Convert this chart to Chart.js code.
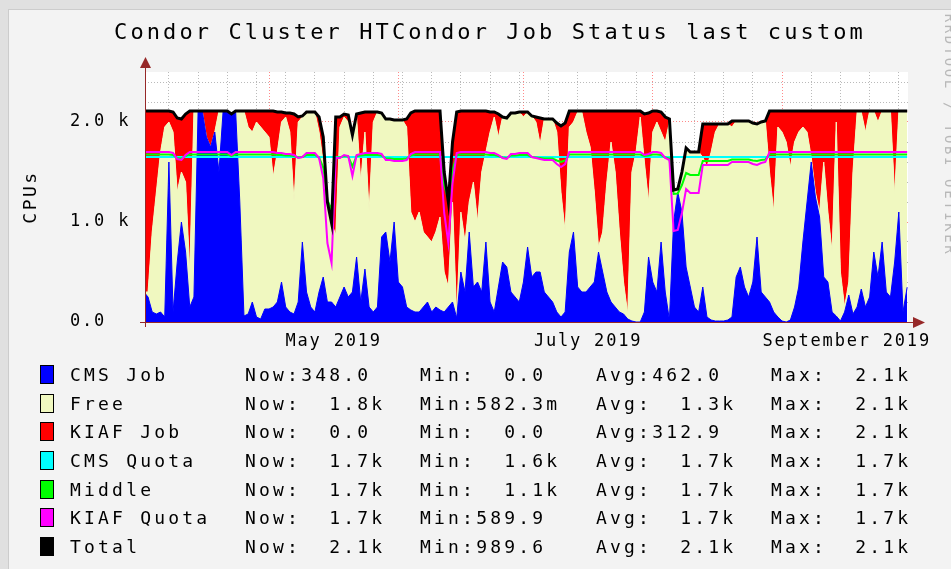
<!DOCTYPE html>
<html>
<head>
<meta charset="utf-8">
<title>Condor Cluster HTCondor Job Status</title>
<script src="https://cdn.jsdelivr.net/npm/chart.js@4.4.1/dist/chart.umd.min.js"></script>
<style>
    html, body { margin: 0; padding: 0; }
    body {
        width: 951px; height: 569px; overflow: hidden; position: relative;
        background: #e0e0e0;
        font-family: "DejaVu Sans Mono", monospace;
    }
    #panel {
        position: absolute; left: 8px; top: 9px; right: 0; bottom: 0;
        background: #f3f3f3;
        border-left: 1px solid #cccccc; border-top: 1px solid #cccccc;
    }
    #chart { position: absolute; left: 0; top: 0; }
    #title {
        position: absolute; left: 0; top: 19px; width: 980px;
        text-align: center; font-size: 22px; line-height: 26px;
        letter-spacing: 3.1px; white-space: pre; color: #000;
    }
    #ytitle {
        position: absolute; left: -10px; top: 185px; width: 80px; height: 24px;
        line-height: 24px; text-align: center; font-size: 18px; letter-spacing: 2.5px;
        transform: rotate(-90deg); color: #000;
    }
    #mark {
        position: absolute; left: 800px; top: 127px; width: 300px; height: 16px;
        line-height: 16px; text-align: center; font-size: 14px; letter-spacing: 2.6px;
        transform: rotate(90deg); color: #b8b8b8; white-space: pre;
    }
    .row { position: absolute; left: 0; width: 951px; height: 28px; line-height: 28px;
        font-size: 18px; letter-spacing: 3.2px; white-space: pre; color: #000; }
    .row span { position: absolute; top: 0; }
    .row .sq { width: 12px; height: 17px; top: 4px; left: 40px; border: 1px solid #000; }
</style>
</head>
<body>
<div id="panel"></div>
<canvas id="chart" width="951" height="569"></canvas>
<div id="title">Condor Cluster HTCondor Job Status last custom</div>
<div id="ytitle">CPUs</div>
<div id="mark">RRDTOOL / TOBI OETIKER</div>
<div id="legend"></div>

<script>
// one sample per day, day 0 = 1 April 2019
var days = [];
for (var d = 0; d <= 183; d++) { days.push(d); }

var cmsJob = [
    300,250,100,80,100,50,1600,100,600,1000,
    700,150,250,2110,2110,1850,1750,1900,1500,2110,
    2110,2080,2110,1200,60,80,200,50,30,130,
    130,150,200,400,150,100,80,200,800,300,
    150,100,300,450,200,200,150,250,350,250,
    300,650,200,530,150,100,150,850,900,600,
    1000,400,350,150,120,100,100,150,200,100,
    150,120,100,150,200,40,500,300,900,350,
    400,300,800,200,100,350,600,550,300,250,
    200,400,750,450,500,500,300,250,200,100,
    50,100,700,900,350,300,300,350,400,700,
    500,300,200,150,100,80,30,10,0,0,
    100,650,400,300,800,300,20,1000,1300,1100,
    550,350,150,100,350,50,20,10,10,10,
    20,50,450,550,350,250,400,850,300,250,
    200,100,50,10,0,20,150,350,800,1200,
    1600,1250,1050,450,400,100,60,10,100,270,
    80,150,330,150,250,700,450,800,300,250,
    600,1100,100,348
];

var freeCpu = [
    0,50,800,1220,1600,1900,400,1800,700,500,
    700,350,1860,0,0,0,0,0,610,0,
    0,0,0,910,2050,1870,1700,1950,1920,1770,
    1720,1300,1500,1600,1900,1800,1120,1800,1250,1780,
    1950,2000,1600,1150,1000,790,720,1700,1700,1750,
    1570,1400,1200,1370,950,1900,1950,1240,1130,1430,
    1020,1620,1670,1800,980,900,1000,750,650,700,
    750,930,400,200,1000,20,600,500,300,1050,
    600,1200,900,1700,1950,1500,1450,1480,1780,1830,
    1900,1650,1350,1610,1500,1280,1730,1780,1830,1800,
    1250,800,1250,1100,1750,1800,1600,1400,900,50,
    400,1100,1600,1350,800,320,50,1490,1700,2050,
    1500,550,1500,1700,1100,1500,1980,320,20,350,
    1190,1350,1550,1600,1300,1500,1680,1890,1970,1970,
    1960,1900,1560,1460,1660,1760,1590,1130,1700,1760,
    1300,1000,1900,1890,1800,1530,1650,1550,1150,700,
    50,50,50,1150,700,600,1940,490,50,130,
    1420,1950,1770,1750,1860,1410,1550,1310,1810,1860,
    670,1000,2010,1762
];

var kiafJob = [
    1810,1810,1210,810,410,160,110,200,740,530,
    680,1610,0,0,0,260,360,210,0,0,
    0,0,0,0,0,160,210,110,160,210,
    260,660,400,100,40,190,880,50,10,20,
    0,0,150,250,0,0,1180,100,30,70,
    0,30,690,200,1000,100,0,0,0,0,
    0,0,0,80,990,1110,1010,1210,1260,1310,
    1210,1060,1000,850,600,2040,1010,1310,910,710,
    1110,610,410,200,50,230,0,10,10,10,
    0,50,0,0,50,260,0,0,0,90,
    660,1090,160,110,10,10,210,360,810,1360,
    1210,710,310,610,1210,1710,2030,610,410,60,
    480,890,210,110,200,250,30,0,10,50,
    0,0,0,0,330,430,280,80,0,0,
    0,60,0,0,0,0,0,0,0,0,
    610,1010,160,210,310,560,310,210,160,210,
    460,810,1010,510,1010,1410,110,1610,1960,1710,
    610,10,10,210,0,0,110,0,0,0,
    840,10,0,0
];

var totalCpu = [
    2110,2110,2110,2110,2110,2110,2110,2100,2040,2030,
    2080,2110,2110,2110,2110,2110,2110,2110,2110,2110,
    2110,2080,2110,2110,2110,2110,2110,2110,2110,2110,
    2110,2110,2100,2100,2090,2090,2080,2050,2060,2100,
    2100,2100,2050,1850,1200,990,2050,2050,2080,2070,
    1870,2080,2090,2100,2100,2100,2100,2090,2030,2030,
    2020,2020,2020,2030,2090,2110,2110,2110,2110,2110,
    2110,2110,1500,1200,1800,2100,2110,2110,2110,2110,
    2110,2110,2110,2100,2100,2080,2050,2040,2090,2090,
    2100,2100,2100,2060,2050,2040,2030,2030,2030,1990,
    1960,1990,2110,2110,2110,2110,2110,2110,2110,2110,
    2110,2110,2110,2110,2110,2110,2110,2110,2110,2110,
    2080,2090,2110,2110,2100,2050,2030,1320,1330,1500,
    1740,1700,1700,1700,1980,1980,1980,1980,1980,1980,
    1980,2010,2010,2010,2010,2010,1990,1980,2000,2010,
    2110,2110,2110,2110,2110,2110,2110,2110,2110,2110,
    2110,2110,2110,2110,2110,2110,2110,2110,2110,2110,
    2110,2110,2110,2110,2110,2110,2110,2110,2110,2110,
    2110,2110,2110,2110
];

var kiafQuota = [
    1700,1700,1700,1700,1700,1700,1700,1690,1630,1620,
    1670,1700,1700,1700,1700,1700,1700,1700,1700,1700,
    1700,1670,1700,1700,1700,1700,1700,1700,1700,1700,
    1700,1700,1690,1690,1680,1680,1670,1640,1650,1690,
    1690,1690,1640,1440,790,590,1640,1640,1670,1660,
    1460,1670,1680,1690,1690,1690,1690,1680,1620,1620,
    1610,1610,1610,1620,1680,1700,1700,1700,1700,1700,
    1700,1700,1090,790,1390,1690,1700,1700,1700,1700,
    1700,1700,1700,1690,1690,1670,1640,1630,1680,1680,
    1690,1690,1690,1650,1640,1630,1620,1620,1620,1580,
    1550,1580,1700,1700,1700,1700,1700,1700,1700,1700,
    1700,1700,1700,1700,1700,1700,1700,1700,1700,1700,
    1670,1680,1700,1700,1690,1640,1620,910,920,1090,
    1330,1290,1290,1290,1570,1570,1570,1570,1570,1570,
    1570,1600,1600,1600,1600,1600,1580,1570,1590,1600,
    1700,1700,1700,1700,1700,1700,1700,1700,1700,1700,
    1700,1700,1700,1700,1700,1700,1700,1700,1700,1700,
    1700,1700,1700,1700,1700,1700,1700,1700,1700,1700,
    1700,1700,1700,1700
];

var middleQuota = [
    1675,1675,1675,1675,1675,1675,1675,1670,1640,1635,
    1660,1675,1675,1675,1675,1675,1675,1675,1675,1675,
    1675,1660,1675,1675,1675,1675,1675,1675,1675,1675,
    1675,1675,1670,1670,1665,1665,1660,1645,1650,1670,
    1670,1670,1645,1545,1220,1120,1645,1645,1660,1655,
    1555,1660,1665,1670,1670,1670,1670,1665,1635,1635,
    1630,1630,1630,1635,1665,1675,1675,1675,1675,1675,
    1675,1675,1370,1220,1520,1670,1675,1675,1675,1675,
    1675,1675,1675,1670,1670,1660,1645,1640,1665,1665,
    1670,1670,1670,1650,1645,1640,1635,1635,1635,1615,
    1600,1615,1675,1675,1675,1675,1675,1675,1675,1675,
    1675,1675,1675,1675,1675,1675,1675,1675,1675,1675,
    1660,1665,1675,1675,1670,1645,1635,1280,1285,1370,
    1490,1470,1470,1470,1610,1610,1610,1610,1610,1610,
    1610,1625,1625,1625,1625,1625,1615,1610,1620,1625,
    1675,1675,1675,1675,1675,1675,1675,1675,1675,1675,
    1675,1675,1675,1675,1675,1675,1675,1675,1675,1675,
    1675,1675,1675,1675,1675,1675,1675,1675,1675,1675,
    1675,1675,1675,1675
];

var cmsQuotaDays = [0, 183];
var cmsQuota = [1650, 1650];

// axis ticks
var weekDays = [6,13,20,27,34,41,48,55,62,69,76,83,90,97,104,111,118,125,132,139,146,153,160,167,174,181];
var monthStartDays = [30, 61, 91, 122, 153];
var xLabelDays = [45.5, 106.5, 168.5];
var xLabels = ['May 2019', 'July 2019', 'September 2019'];
var yGridValues = [0,200,400,600,800,1000,1200,1400,1600,1800,2000,2200,2400];
var yMajorValues = [0, 1000, 2000];
var yTickLabels = ['0.0', '1.0 k', '2.0 k'];

// legend text
var legendNames = ['CMS Job', 'Free', 'KIAF Job', 'CMS Quota', 'Middle', 'KIAF Quota', 'Total'];
var legendColors = ['#0000ff', '#f0f8c0', '#ff0000', '#00ffff', '#00ff00', '#ff00ff', '#000000'];
var legendNow = ['Now:348.0', 'Now:  1.8k', 'Now:  0.0', 'Now:  1.7k', 'Now:  1.7k', 'Now:  1.7k', 'Now:  2.1k'];
var legendMin = ['Min:  0.0', 'Min:582.3m', 'Min:  0.0', 'Min:  1.6k', 'Min:  1.1k', 'Min:589.9', 'Min:989.6'];
var legendAvg = ['Avg:462.0', 'Avg:  1.3k', 'Avg:312.9', 'Avg:  1.7k', 'Avg:  1.7k', 'Avg:  1.7k', 'Avg:  2.1k'];
var legendMax = ['Max:  2.1k', 'Max:  2.1k', 'Max:  2.1k', 'Max:  1.7k', 'Max:  1.7k', 'Max:  1.7k', 'Max:  2.1k'];

var minorGrid = 'rgba(130,130,130,0.55)';
var majorGrid = 'rgba(255,40,40,0.55)';
var axisColor = '#962828';

function pts(vals) {
    return vals.map(function (v, i) { return { x: days[i], y: v }; });
}

function buildLegend() {
    var box = document.getElementById('legend');
    var cols = [245, 420, 596, 771];
    legendNames.forEach(function (name, i) {
        var row = document.createElement('div');
        row.className = 'row';
        row.style.top = (361 + i * 28.67) + 'px';
        var html = '<span class="sq" style="background:' + legendColors[i] + '"></span>';
        html += '<span style="left:70px">' + name + '</span>';
        [legendNow[i], legendMin[i], legendAvg[i], legendMax[i]].forEach(function (t, k) {
            html += '<span style="left:' + cols[k] + 'px">' + t + '</span>';
        });
        row.innerHTML = html;
        box.appendChild(row);
    });
}

var rrdFrame = {
    id: 'rrdFrame',
    beforeDraw: function (chart) {
        var a = chart.chartArea, ctx = chart.ctx;
        ctx.save();
        ctx.fillStyle = '#ffffff';
        ctx.fillRect(a.left, a.top, a.right - a.left, a.bottom - a.top);
        ctx.restore();
        ctx.letterSpacing = '1.8px';
    },
    afterDraw: function (chart) {
        var a = chart.chartArea, ctx = chart.ctx;
        var x0 = Math.round(a.left) + 0.5, y0 = Math.round(a.bottom) + 0.5;
        ctx.save();
        ctx.strokeStyle = axisColor;
        ctx.fillStyle = axisColor;
        ctx.lineWidth = 1;
        ctx.setLineDash([]);
        ctx.beginPath();
        ctx.moveTo(a.left - 5, y0); ctx.lineTo(a.right + 6, y0);
        ctx.moveTo(x0, a.bottom + 5); ctx.lineTo(x0, a.top - 4);
        ctx.stroke();
        // arrows
        ctx.beginPath();
        ctx.moveTo(a.right + 17, y0); ctx.lineTo(a.right + 5, y0 - 5.5); ctx.lineTo(a.right + 5, y0 + 5.5);
        ctx.closePath(); ctx.fill();
        ctx.beginPath();
        ctx.moveTo(x0, a.top - 15); ctx.lineTo(x0 - 5.5, a.top - 4); ctx.lineTo(x0 + 5.5, a.top - 4);
        ctx.closePath(); ctx.fill();
        ctx.restore();
    }
};

function loadChart() {
    Chart.defaults.font.family = "'DejaVu Sans Mono', monospace";
    var tickFont = { family: "'DejaVu Sans Mono', monospace", size: 17 };
    var xTicks = weekDays.concat(monthStartDays, xLabelDays)
        .filter(function (v, i, arr) { return arr.indexOf(v) === i; })
        .sort(function (a, b) { return a - b; });

    new Chart(document.getElementById('chart').getContext('2d'), {
        type: 'line',
        data: {
            datasets: [
                { label: 'CMS Job', data: pts(cmsJob), backgroundColor: '#0000ff', borderColor: '#0000ff',
                  borderWidth: 1, fill: 'origin', stack: 'jobs', order: 4 },
                { label: 'Free', data: pts(freeCpu), backgroundColor: '#f0f8c0', borderColor: '#f0f8c0',
                  borderWidth: 1, fill: '-1', stack: 'jobs', order: 5 },
                { label: 'KIAF Job', data: pts(kiafJob), backgroundColor: '#ff0000', borderColor: '#ff0000',
                  borderWidth: 1, fill: '-1', stack: 'jobs', order: 6 },
                { label: 'CMS Quota', data: cmsQuota.map(function (v, i) { return { x: cmsQuotaDays[i], y: v }; }),
                  borderColor: '#00ffff', borderWidth: 2, fill: false, stack: 'q1', order: 3 },
                { label: 'Middle', data: pts(middleQuota), borderColor: '#00ff00', borderWidth: 2,
                  fill: false, stack: 'q2', order: 2 },
                { label: 'KIAF Quota', data: pts(kiafQuota), borderColor: '#ff00ff', borderWidth: 2,
                  fill: false, stack: 'q3', order: 1 },
                { label: 'Total', data: pts(totalCpu), borderColor: '#000000', borderWidth: 3,
                  fill: false, stack: 'q4', order: 0 }
            ]
        },
        options: {
            responsive: false,
            animation: false,
            devicePixelRatio: 1,
            elements: { point: { radius: 0 }, line: { tension: 0 } },
            layout: { padding: { left: 70, right: 43, top: 72, bottom: 217 } },
            plugins: { legend: { display: false }, title: { display: false }, tooltip: { enabled: false } },
            scales: {
                x: {
                    type: 'linear', min: 0.27, max: 183.2, z: 1,
                    afterBuildTicks: function (s) {
                        s.ticks = xTicks.map(function (v) { return { value: v }; });
                    },
                    afterFit: function (s) { s.height = 30; },
                    grid: {
                        drawTicks: false, lineWidth: 1,
                        color: function (c) {
                            if (!c.tick) return 'transparent';
                            if (monthStartDays.indexOf(c.tick.value) >= 0) return majorGrid;
                            if (weekDays.indexOf(c.tick.value) >= 0) return minorGrid;
                            return 'transparent';
                        }
                    },
                    border: { display: false, dash: [1, 2] },
                    ticks: {
                        autoSkip: false, maxRotation: 0, padding: 9, color: '#000', font: tickFont,
                        callback: function (v) {
                            var k = xLabelDays.indexOf(v);
                            return k >= 0 ? xLabels[k] : '';
                        }
                    }
                },
                y: {
                    stacked: true, min: 0, max: 2500, z: 1,
                    afterBuildTicks: function (s) {
                        s.ticks = yGridValues.map(function (v) { return { value: v }; });
                    },
                    afterFit: function (s) { s.width = 75; },
                    grid: {
                        drawTicks: false, lineWidth: 1,
                        color: function (c) {
                            if (!c.tick) return 'transparent';
                            return yMajorValues.indexOf(c.tick.value) >= 0 ? majorGrid : minorGrid;
                        }
                    },
                    border: { display: false, dash: [1, 2] },
                    ticks: {
                        autoSkip: false, crossAlign: 'far', padding: 0, color: '#000', font: tickFont,
                        callback: function (v) {
                            var k = yMajorValues.indexOf(v);
                            return k >= 0 ? yTickLabels[k] : '';
                        }
                    }
                }
            }
        },
        plugins: [rrdFrame]
    });
}

buildLegend();
loadChart();
</script>
</body>
</html>
